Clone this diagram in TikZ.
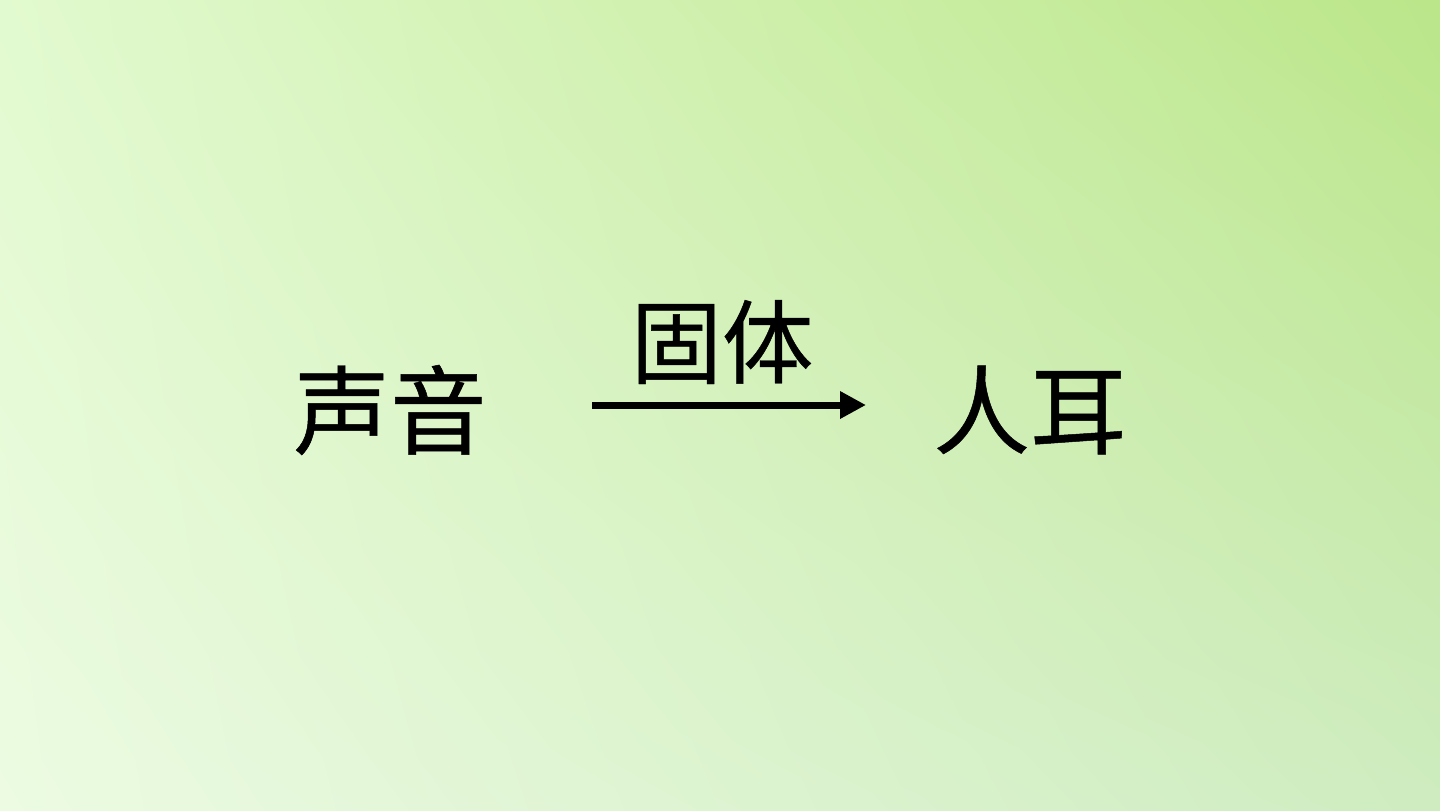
\documentclass[tikz,border=0pt]{standalone}
\usepackage{fontspec}
\usepackage{tikz}
\usetikzlibrary{arrows.meta}
\usetikzlibrary{shadings}
\newfontfamily\cjk[FakeBold=0.5]{Noto Sans CJK SC}
\definecolor{bgTL}{RGB}{226,250,207}
\definecolor{bgTR}{RGB}{187,230,137}
\definecolor{bgBL}{RGB}{236,251,226}
\definecolor{bgBR}{RGB}{206,236,192}
\tikzset{
  word/.style={inner sep=0pt, font=\cjk\fontsize{27.5}{30}\selectfont},
  smallword/.style={inner sep=0pt, font=\cjk\fontsize{26}{28}\selectfont},
  pass/.style={line width=0.7mm, -{Triangle[length=2.6mm,width=2.6mm]}}
}
\begin{document}
\begin{tikzpicture}
      % background
      \shade[upper left=bgTL, upper right=bgTR, lower left=bgBL, lower right=bgBR]
        (0,0) rectangle (14.4,8.1);
      \useasboundingbox (0,0) rectangle (14.4,8.1);

      %write the two ends
      \node[word] (sound) at (3.90,4.00) {声音};
      \node[word] (ear) at (10.30,4.00) {人耳};

      %write the medium
      \node[smallword] (solid) at (7.22,4.68) {固体};

      % arrow between the ends
      \coordinate (from) at (5.92,4.05);
      \coordinate (to) at (8.66,4.05);
      \draw[pass] (from) -- (to);
    \end{tikzpicture}
\end{document}
